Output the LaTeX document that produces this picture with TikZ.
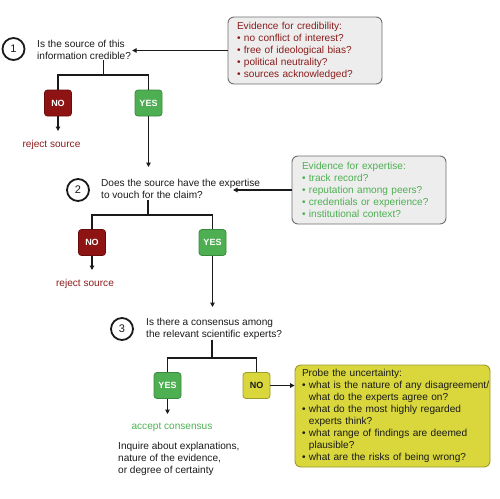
\documentclass[tikz,border=0pt]{standalone}
\usepackage{fontspec}
\setmainfont{Liberation Sans}
\usetikzlibrary{arrows.meta}
\definecolor{nored}{HTML}{8E1414}
\definecolor{noredline}{HTML}{6A0C0C}
\definecolor{redtext}{HTML}{8B1C1C}
\definecolor{yesgreen}{HTML}{4DAE52}
\definecolor{yesgreenline}{HTML}{3A8A3E}
\definecolor{greentext}{HTML}{4DB052}
\definecolor{yel}{HTML}{D9D73C}
\definecolor{yelline}{HTML}{9C9A2A}
\definecolor{boxgray}{HTML}{EDEDED}
\definecolor{boxline}{HTML}{6E6E6E}
\definecolor{ink}{HTML}{1A1A1A}
\begin{document}
\begin{tikzpicture}[x=1pt,y=-1pt,
  font=\fontsize{10.1}{12}\selectfont,
  conn/.style={line width=1.8pt, draw=ink},
  arr/.style={conn, -{Triangle[length=4.5pt,width=4.5pt]}},
  num/.style={circle, draw=ink, line width=1.8pt, minimum size=22pt, inner sep=0pt, text=ink, font=\fontsize{11}{12}\selectfont},
  question/.style={anchor=west, align=left, inner sep=1pt, text=ink},
  choice/.style={rounded corners=3pt, minimum width=27pt, minimum height=26pt, inner sep=0pt, text=white, font=\bfseries\fontsize{9}{10}\selectfont, line width=0.8pt},
  nobox/.style={choice, fill=nored, draw=noredline},
  yesbox/.style={choice, fill=yesgreen, draw=yesgreenline},
  undecided/.style={choice, fill=yel, draw=yelline, text=ink},
  evidence/.style={rounded corners=6pt, draw=boxline, line width=0.9pt, fill=boxgray, align=left, inner xsep=0pt, inner ysep=0pt},
  outcome/.style={inner sep=1pt},
]
\useasboundingbox (0,0) rectangle (500,498);

% ---- step 1
\node[num] (n1) at (13.5,49) {1};
\node[question] (q1) at (36,49.5) {Is the source of this\\information credible?};
\node[evidence, text=redtext, minimum width=154pt, minimum height=67pt, text width=136pt] (cred) at (305,50.5)
  {\mbox{Evidence for credibility:}\\
   \mbox{\textbullet\ no conflict of interest?}\\
   \mbox{\textbullet\ free of ideological bias?}\\
   \mbox{\textbullet\ political neutrality?}\\
   \mbox{\textbullet\ sources acknowledged?}};
\node[nobox] (no1) at (58,103) {NO};
\node[yesbox] (yes1) at (148.5,103) {YES};
\node[outcome, text=redtext] (rej1) at (51.5,145) {reject source};
\coordinate (b1) at (103.5,75);
\coordinate (r1) at (58,131);
\coordinate (e1) at (148.5,167);

\draw[arr] (cred.west) -- (cred.west -| q1.east);
\draw[conn] (b1 |- q1.south) -- (b1);
\draw[conn] (no1.north) |- (b1) -| (yes1.north);
\draw[arr] (no1.south) -- (r1);
\draw[arr] (yes1.south) -- (e1);

% ---- step 2
\node[num] (n2) at (78,190) {2};
\node[question] (q2) at (100,189) {Does the source have the expertise\\to vouch for the claim?};
\node[evidence, text=greentext, minimum width=154pt, minimum height=68pt, text width=134pt] (exp) at (369,190)
  {\mbox{Evidence for expertise:}\\
   \mbox{\textbullet\ track record?}\\
   \mbox{\textbullet\ reputation among peers?}\\
   \mbox{\textbullet\ credentials or experience?}\\
   \mbox{\textbullet\ institutional context?}};
\node[nobox] (no2) at (92,242.5) {NO};
\node[yesbox] (yes2) at (212.5,242.5) {YES};
\node[outcome, text=redtext] (rej2) at (85,284) {reject source};
\coordinate (b2) at (148,215);
\coordinate (t2) at (233,190);
\coordinate (r2) at (92,270);
\coordinate (e2) at (212.5,307);

\draw[arr] (exp.west) -- (exp.west -| t2);
\draw[conn] (b2 |- q2.south) -- (b2);
\draw[conn] (no2.north) |- (b2) -| (yes2.north);
\draw[arr] (no2.south) -- (r2);
\draw[arr] (yes2.south) -- (e2);

% ---- step 3
\node[num] (n3) at (122,329) {3};
\node[question] (q3) at (145,328.5) {Is there a consensus among\\the relevant scientific experts?};
\node[yesbox] (yes3) at (167.5,385.5) {YES};
\node[undecided] (no3) at (256.5,385.5) {NO};
\node[outcome, text=greentext] (acc) at (172,427) {accept consensus};
\node[question] (inq) at (117,459) {Inquire about explanations,\\nature of the evidence,\\or degree of certainty};
\node[evidence, fill=yel, draw=yelline, text=ink, minimum width=195pt, minimum height=102pt, text width=181pt] (probe) at (392.5,416)
  {\mbox{Probe the uncertainty:}\\
   \mbox{\textbullet\ what is the nature of any disagreement/}\\
   \mbox{\phantom{\textbullet\ }what do the experts agree on?}\\
   \mbox{\textbullet\ what do the most highly regarded}\\
   \mbox{\phantom{\textbullet\ }experts think?}\\
   \mbox{\textbullet\ what range of findings are deemed}\\
   \mbox{\phantom{\textbullet\ }plausible?}\\
   \mbox{\textbullet\ what are the risks of being wrong?}};
\coordinate (b3) at (212,358);
\coordinate (r3) at (167.5,414);

\draw[conn] (b3 |- q3.south) -- (b3);
\draw[conn] (yes3.north) |- (b3) -| (no3.north);
\draw[arr] (yes3.south) -- (r3);
\draw[arr] (no3.east) -- (no3.east -| probe.west);
\end{tikzpicture}
\end{document}
